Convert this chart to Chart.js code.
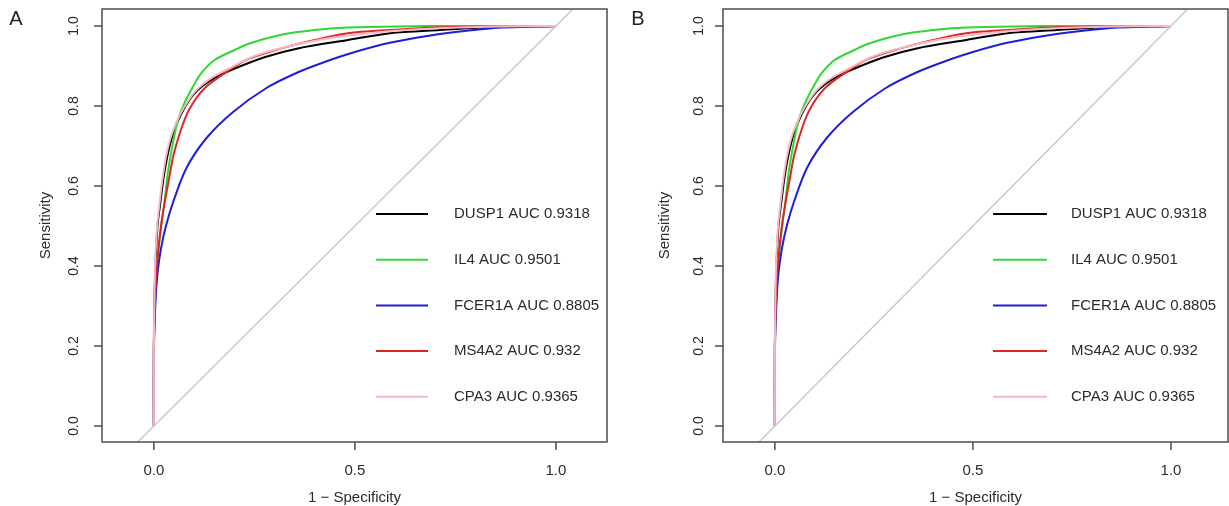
<!DOCTYPE html>
<html>
<head>
<meta charset="utf-8">
<script src="https://cdn.jsdelivr.net/npm/chart.js@4.4.1/dist/chart.umd.min.js"></script>
<style>
  html, body { margin: 0; padding: 0; background: #fff; }
  #wrap { position: relative; width: 1229px; height: 506px; }
  canvas { position: absolute; top: 0; }
</style>
</head>
<body>
<div id="wrap">
  <canvas id="chartA" width="614" height="506" style="left:0"></canvas>
  <canvas id="chartB" width="615" height="506" style="left:614px"></canvas>
</div>
<script>
// genes, AUC labels, colours (legend order)
const genes = ['DUSP1', 'IL4', 'FCER1A', 'MS4A2', 'CPA3'];
const aucs = ['0.9318', '0.9501', '0.8805', '0.932', '0.9365'];
const colors = ['#000000', '#33d633', '#1f1fd6', '#dc2626', '#f6b8c4'];

// smoothed ROC curves: x = 1 - specificity, y = sensitivity
const dusp1Fpr = [0, 0, 0.001, 0.004, 0.009, 0.017, 0.024, 0.033, 0.044, 0.058, 0.076, 0.098, 0.125, 0.155, 0.192, 0.275, 0.358, 0.483, 0.587, 0.711, 0.836, 1];
const dusp1Tpr = [0, 0.2, 0.3, 0.4, 0.5, 0.565, 0.62, 0.672, 0.718, 0.758, 0.795, 0.828, 0.853, 0.872, 0.89, 0.922, 0.944, 0.965, 0.982, 0.99, 0.997, 1];

const il4Fpr = [0, 0, 0.003, 0.008, 0.016, 0.027, 0.035, 0.046, 0.060, 0.076, 0.097, 0.118, 0.151, 0.201, 0.234, 0.317, 0.40, 0.483, 0.6, 0.75, 1];
const il4Tpr = [0, 0.2, 0.3, 0.4, 0.48, 0.565, 0.635, 0.70, 0.765, 0.807, 0.848, 0.882, 0.915, 0.94, 0.955, 0.978, 0.99, 0.996, 0.999, 1, 1];

const fcer1aFpr = [0, 0, 0.002, 0.005, 0.010, 0.018, 0.030, 0.048, 0.081, 0.131, 0.197, 0.28, 0.36, 0.43, 0.50, 0.587, 0.711, 0.836, 1];
const fcer1aTpr = [0, 0.18, 0.26, 0.33, 0.39, 0.445, 0.50, 0.56, 0.645, 0.72, 0.785, 0.845, 0.885, 0.912, 0.935, 0.958, 0.98, 0.994, 1];

const ms4a2Fpr = [0, 0, 0.002, 0.006, 0.012, 0.019, 0.028, 0.038, 0.050, 0.076, 0.097, 0.130, 0.176, 0.234, 0.317, 0.40, 0.483, 0.587, 0.711, 0.85, 1];
const ms4a2Tpr = [0, 0.2, 0.3, 0.38, 0.45, 0.51, 0.565, 0.62, 0.682, 0.765, 0.807, 0.848, 0.882, 0.917, 0.944, 0.965, 0.982, 0.99, 0.997, 0.999, 1];

const cpa3Fpr = [0, 0, 0.001, 0.003, 0.008, 0.015, 0.021, 0.030, 0.040, 0.054, 0.074, 0.104, 0.14, 0.185, 0.25, 0.33, 0.42, 0.5, 0.6, 0.72, 0.85, 1];
const cpa3Tpr = [0, 0.2, 0.3, 0.4, 0.5, 0.565, 0.615, 0.672, 0.715, 0.755, 0.795, 0.838, 0.868, 0.893, 0.925, 0.948, 0.967, 0.978, 0.988, 0.995, 0.999, 1];

const diagX = [-0.04, 1.04];
const diagY = [-0.04, 1.04];

const xTicks = [0, 0.5, 1];
const yTicks = [0, 0.2, 0.4, 0.6, 0.8, 1];

const curves = [
  [dusp1Fpr, dusp1Tpr],
  [il4Fpr, il4Tpr],
  [fcer1aFpr, fcer1aTpr],
  [ms4a2Fpr, ms4a2Tpr],
  [cpa3Fpr, cpa3Tpr]
];

function pts(xs, ys) {
  return xs.map((v, i) => ({ x: v, y: ys[i] }));
}

// axes box, ticks, titles, panel letter and legend, placed with the chart scales
const decor = {
  id: 'decor',
  afterDraw(chart, args, o) {
    const ctx = chart.ctx;
    const a = chart.chartArea;
    const sx = chart.scales.x, sy = chart.scales.y;
    const font = '"Liberation Sans", Arial, sans-serif';
    ctx.save();
    ctx.strokeStyle = '#4d4d4d';
    ctx.lineWidth = 1.5;
    ctx.strokeRect(a.left, a.top, a.right - a.left, a.bottom - a.top);

    ctx.fillStyle = '#2b2b2b';
    ctx.textAlign = 'center';
    ctx.textBaseline = 'middle';
    ctx.font = '15px ' + font;
    xTicks.forEach(v => {
      const px = sx.getPixelForValue(v);
      ctx.beginPath(); ctx.moveTo(px, a.bottom); ctx.lineTo(px, a.bottom + 8); ctx.stroke();
      ctx.fillText(v.toFixed(1), px, 471);
    });
    ctx.font = '14px ' + font;
    yTicks.forEach(v => {
      const py = sy.getPixelForValue(v);
      ctx.beginPath(); ctx.moveTo(a.left - 8, py); ctx.lineTo(a.left, py); ctx.stroke();
      ctx.save();
      ctx.translate(o.yLabX, py);
      ctx.rotate(-Math.PI / 2);
      ctx.fillText(v.toFixed(1), 0, 0);
      ctx.restore();
    });

    // axis titles
    ctx.font = '15px ' + font;
    ctx.fillText('1 \u2212 Specificity', (a.left + a.right) / 2, 498);
    ctx.save();
    ctx.translate(o.yTitleX, (a.top + a.bottom) / 2);
    ctx.rotate(-Math.PI / 2);
    ctx.fillText('Sensitivity', 0, 0);
    ctx.restore();

    // panel letter
    ctx.fillStyle = '#222';
    ctx.font = '20px ' + font;
    ctx.fillText(o.letter, o.letterX, 19);

    // legend
    ctx.font = '15px ' + font;
    ctx.textAlign = 'left';
    ctx.fillStyle = '#2b2b2b';
    ctx.lineWidth = 2;
    genes.forEach((g, i) => {
      const ly = 214 + i * 45.7;
      ctx.strokeStyle = colors[i];
      ctx.beginPath(); ctx.moveTo(o.legX0, ly); ctx.lineTo(o.legX1, ly); ctx.stroke();
      ctx.fillText(g + ' AUC ' + aucs[i], o.legText, ly);
    });
    ctx.restore();
  }
};

function makeChart(id, xMin, xMax, pad, deco) {
  const datasets = curves.map((c, i) => ({
    label: genes[i],
    data: pts(c[0], c[1]),
    borderColor: colors[i],
    borderWidth: 2,
    pointRadius: 0,
    showLine: true,
    tension: 0.3,
    order: genes.length - i
  }));
  datasets.push({
    label: 'diagonal',
    data: pts(diagX, diagY),
    borderColor: '#c9c9c9',
    borderWidth: 1.5,
    pointRadius: 0,
    showLine: true,
    order: 10
  });
  return new Chart(document.getElementById(id), {
    type: 'scatter',
    data: { datasets: datasets },
    options: {
      responsive: false,
      animation: false,
      devicePixelRatio: 1,
      events: [],
      layout: { padding: pad },
      plugins: { legend: { display: false }, tooltip: { enabled: false }, decor: deco },
      scales: {
        x: { type: 'linear', min: xMin, max: xMax, display: false },
        y: { type: 'linear', min: -0.04, max: 1.0425, display: false }
      }
    },
    plugins: [decor]
  });
}

makeChart('chartA', -0.129, 1.127, { left: 102, right: 7, top: 9, bottom: 64 },
  { letter: 'A', letterX: 16, yLabX: 74, yTitleX: 46, legX0: 376, legX1: 428, legText: 454 });
makeChart('chartB', -0.131, 1.144, { left: 109, right: 1, top: 9, bottom: 64 },
  { letter: 'B', letterX: 24, yLabX: 85, yTitleX: 51, legX0: 379, legX1: 433, legText: 457 });
</script>
</body>
</html>
